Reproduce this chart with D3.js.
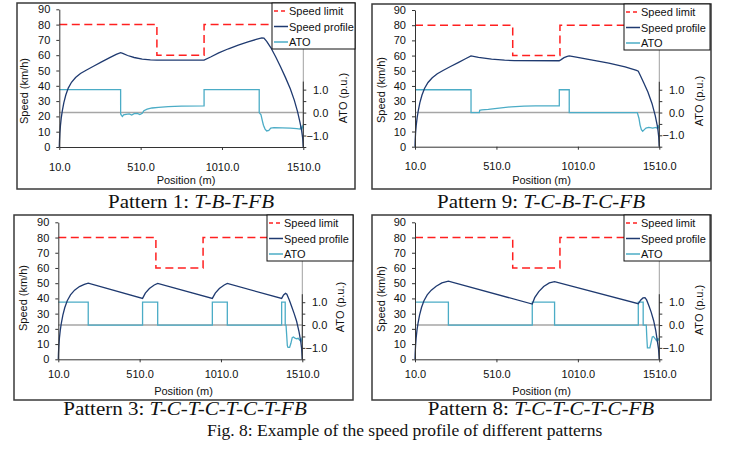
<!DOCTYPE html>
<html>
<head>
<meta charset="utf-8">
<script src="https://cdn.jsdelivr.net/npm/d3@7"></script>
<style>
  body { margin: 0; background: #fff; }
  svg text { font-family: "Liberation Sans", Arial, sans-serif; fill: #111; }
  svg text.cap { font-family: "Liberation Serif", "Times New Roman", serif; }
</style>
</head>
<body>
<svg id="fig" width="731" height="454"></svg>
<script>
// ---- data ----
const posTicks = [10, 510, 1010, 1510];
const speedTicks = [0, 10, 20, 30, 40, 50, 60, 70, 80, 90];
const atoTicks = [-1.5, -1, -0.5, 0, 0.5, 1];
const atoLabels = [-1, 0, 1];
const seriesNames = ["Speed limit", "Speed profile", "ATO"];

// speed limit (km/h) vs position (m)
const limitPos = [10, 610, 610, 900, 900, 1510];
const limitVal = [80, 80, 60, 60, 80, 80];

// Pattern 1: T-B-T-FB
const p1Speed = [[10,0],[11,4],[13.5,9],[17,14],[22,19],[29,24],[38,29],[50,34],[65,38.5],[85,42.3],[110,45.4],
  [140,48],[175,50.2],[220,52.8],[270,55.6],[320,58.4],[360,60.5],[387,61.7],
  [400,61.2],[430,59.8],[470,58.5],[520,57.5],[570,57],[610,56.8],[900,56.8],[940,58.8],[990,61.5],[1050,64.2],
  [1110,66.6],[1170,68.7],[1220,70.3],[1255,71.3],[1268,71.2],[1285,69],[1310,65],[1340,59],[1370,52.5],
  [1400,45.5],[1430,38],[1455,30.5],[1475,23],[1490,16],[1500,10.5],[1506,6],[1510,0]];
const p1Ato = [[10,1],[387,1],[387,-0.05],[392,-0.12],[398,-0.17],[405,-0.1],[420,-0.08],[440,-0.06],[455,-0.11],
  [470,-0.05],[490,-0.04],[505,-0.09],[520,-0.03],[530,0.08],[550,0.15],[580,0.2],[620,0.23],[680,0.26],[760,0.28],
  [900,0.29],[900,1],[1239,1],[1239,0],[1250,-0.1],[1258,-0.35],[1265,-0.55],[1275,-0.72],[1285,-0.8],[1298,-0.78],
  [1310,-0.68],[1330,-0.66],[1380,-0.67],[1430,-0.68],[1470,-0.7],[1490,-0.72],[1495,-0.62],[1500,-0.75],[1505,-0.6],[1510,-0.68]];

// Pattern 9: T-C-B-T-C-FB
const p9Speed = [[10,0],[11,4],[13.5,9],[17.5,14],[23,19],[30.5,24],[40,29],[53,34],[69,38.5],[90,42.3],[116,45.4],
  [147,48],[182,50.2],[228,52.8],[275,55.4],[320,57.9],[354,59.8],
  [400,58.8],[480,57.6],[560,57],[620,56.7],[895,56.6],[905,57.2],[925,58.6],[945,59.5],[957,59.8],[1000,59],
  [1100,57],[1200,55],[1300,52.5],[1370,50.2],[1381,49.7],[1395,46.5],[1415,42],[1440,36],[1465,28.5],[1485,20.5],
  [1500,12.5],[1506,7],[1510,0]];
const p9Ato = [[10,1],[354,1],[354,0],[405,0],[407,0.1],[420,0.12],[460,0.14],[500,0.17],[540,0.2],[600,0.25],
  [680,0.28],[750,0.29],[896,0.29],[896,1],[957,1],[957,0],[1375,0],[1385,-0.25],[1392,-0.55],[1400,-0.75],
  [1408,-0.82],[1418,-0.75],[1428,-0.68],[1445,-0.65],[1470,-0.68],[1490,-0.65],[1498,-0.7],[1503,-0.55],[1507,-0.7],[1510,-0.6]];

// Pattern 3: T-C-T-C-T-C-T-FB
const p3Speed = [[10,0],[11,4],[13.5,9],[17,14],[22,19],[29,24],[38,29],[50,34],[65,38.5],[85,42.3],[110,45.4],
  [140,47.8],[170,49.2],[194,50],[528,40],[545,43.5],
  [570,46.5],[600,48.8],[621,49.8],[957,40],[975,43.5],[1000,46.5],[1030,48.8],[1049,49.8],[1383,40],[1395,42.3],
  [1407,43.3],[1415,42.8],[1430,39],[1445,34.5],[1460,30],[1475,25],[1490,18],[1500,12],[1506,7],[1510,0]];
const p3Ato = [[10,1],[194,1],[194,0],[528,0],[528,1],[621,1],[621,0],[957,0],[957,1],[1049,1],[1049,0],[1383,0],
  [1383,1],[1405,1],[1405,0],[1410,0],[1414,-0.45],[1418,-0.9],[1422,-0.98],[1432,-0.98],[1440,-0.8],[1448,-0.55],
  [1455,-0.52],[1465,-0.57],[1475,-0.6],[1485,-0.58],[1495,-0.67],[1502,-0.72],[1507,-0.6],[1510,-0.65]];

// Pattern 8: T-C-T-C-T-C-FB
const p8Speed = [[10,0],[11,4],[13.5,9],[17,14],[22,19],[29,24],[38,29],[50,34],[65,38.5],[85,42.3],[110,45.4],
  [140,48],[175,50.2],[215,51.3],[730,36.3],[745,40.5],
  [770,44.5],[800,47.8],[835,50.2],[867,51],[1381,36.5],[1395,38.8],[1410,40.3],[1422,40.5],[1432,39],[1445,35.5],
  [1460,31],[1475,25.5],[1488,19],[1498,12],[1505,7],[1510,0]];
const p8Ato = [[10,1],[215,1],[215,0],[730,0],[730,1],[867,1],[867,0],[1381,0],[1381,1],[1411,1],[1411,0],[1430,0],
  [1433,-0.5],[1437,-1],[1452,-1],[1460,-0.75],[1467,-0.52],[1474,-0.5],[1483,-0.58],[1493,-0.68],[1500,-0.6],
  [1505,-0.65],[1510,-0.58]];

const colors = { limit: "#ff2020", speed: "#1f3a70", ato: "#4bacc6" };

const svg = d3.select("#fig");
svg.append("rect").attr("width", 731).attr("height", 454).attr("fill", "#fff");

function drawPanel(p) {
  const g = svg.append("g");

  // outer frame of the chart
  g.append("rect")
    .attr("x", p.frame[0]).attr("y", p.frame[1])
    .attr("width", p.frame[2] - p.frame[0]).attr("height", p.frame[3] - p.frame[1])
    .attr("fill", "#fff").attr("stroke", "#3a3a3a").attr("stroke-width", 1.5);

  const x = d3.scaleLinear().domain([10, 1510]).range([p.left, p.right]);
  const y = d3.scaleLinear().domain([0, 90]).range([p.bottom, p.top]);
  const ya = d3.scaleLinear().domain([-1.5, 4.5]).range([p.bottom, p.top]);

  // secondary axis line (grey part) and ATO zero line
  g.append("line").attr("x1", x(1510)).attr("x2", x(1510)).attr("y1", y(90)).attr("y2", y(0))
    .attr("stroke", "#a0a0a0").attr("stroke-width", 1);
  g.append("line").attr("x1", x(10)).attr("x2", x(1510)).attr("y1", ya(0)).attr("y2", ya(0))
    .attr("stroke", "#a6a6a6").attr("stroke-width", 1.5);

  const line = d3.line().x(d => x(d[0])).y(d => y(d[1]));
  const atoLine = d3.line().x(d => x(d[0])).y(d => ya(d[1]));

  g.append("path").datum(limitPos.map((d, i) => [d, limitVal[i]]))
    .attr("d", line).attr("fill", "none").attr("stroke", colors.limit)
    .attr("stroke-width", 1.5).attr("stroke-dasharray", "8,4.5");

  g.append("path").datum(p.ato).attr("d", atoLine)
    .attr("fill", "none").attr("stroke", colors.ato).attr("stroke-width", 1.3);

  g.append("path").datum(p.speed).attr("d", line)
    .attr("fill", "none").attr("stroke", colors.speed).attr("stroke-width", 1.3);

  // left axis
  const yAxis = g.append("g").attr("transform", `translate(${p.left},0)`)
    .call(d3.axisLeft(y).tickValues(speedTicks).tickSize(3).tickSizeOuter(0).tickPadding(6));
  // bottom axis
  const xAxis = g.append("g").attr("transform", `translate(0,${p.bottom})`)
    .call(d3.axisBottom(x).tickValues(posTicks).tickFormat(d3.format(".1f")).tickSize(3).tickSizeOuter(0).tickPadding(p.xPad));
  // right (ATO) axis
  const aAxis = g.append("g").attr("transform", `translate(${p.right},0)`)
    .call(d3.axisRight(ya).tickValues(atoTicks).tickSize(3)
      .tickFormat(d => atoLabels.includes(d) ? d3.format(".1f")(d) : ""));
  aAxis.select(".domain").remove();
  aAxis.selectAll("text").attr("text-anchor", "end").attr("x", 25);
  g.append("line").attr("x1", p.right).attr("x2", p.right).attr("y1", ya(-1.5)).attr("y2", ya(1.35))
    .attr("stroke", "#333").attr("stroke-width", 1);

  [yAxis, xAxis, aAxis].forEach(a => {
    a.selectAll("path,line").attr("stroke", "#333");
    a.selectAll("text").style("font-size", "11px").attr("fill", "#111")
      .style("font-family", "'Liberation Sans', Arial, sans-serif");
  });

  // axis titles
  g.append("text").attr("x", (p.frame[0] + p.frame[2]) / 2).attr("y", p.frame[3] - 5)
    .attr("text-anchor", "middle").style("font-size", "11px").text("Position (m)");
  g.append("text").attr("transform", `translate(${p.yTitle[0]},${p.yTitle[1]}) rotate(-90)`)
    .attr("text-anchor", "middle").attr("dominant-baseline", "central")
    .style("font-size", "11px").text("Speed (km/h)");
  g.append("text").attr("transform", `translate(${p.aTitle[0]},${p.aTitle[1]}) rotate(-90)`)
    .attr("text-anchor", "middle").attr("dominant-baseline", "central")
    .style("font-size", "11px").text("ATO (p.u.)");

  // legend
  const lg = g.append("g").attr("transform", `translate(${p.legend[0]},${p.legend[1]})`);
  lg.append("rect").attr("width", p.legend[2]).attr("height", 46)
    .attr("fill", "#fff").attr("stroke", "#111").attr("stroke-width", 1);
  const legColors = [colors.limit, colors.speed, colors.ato];
  seriesNames.forEach((name, i) => {
    const cy = 8 + i * 15.5;
    lg.append("line").attr("x1", 2).attr("x2", 16).attr("y1", cy).attr("y2", cy)
      .attr("stroke", legColors[i]).attr("stroke-width", 1.5)
      .attr("stroke-dasharray", i === 0 ? "4,3" : null);
    lg.append("text").attr("x", 17).attr("y", cy).attr("dominant-baseline", "central")
      .style("font-size", "11px").text(name);
  });

  // caption (the sub-figure captions are slightly stretched horizontally in the original)
  const cap = svg.append("text").attr("class", "cap")
    .attr("transform", `translate(${p.cap[0]},${p.cap[1]}) scale(1.13,1)`)
    .attr("text-anchor", "middle").style("font-size", "18.6px");
  cap.append("tspan").text(p.capText);
  cap.append("tspan").style("font-style", "italic").text(p.capSeq);
}

drawPanel({ frame: [17, 3, 355, 189], left: 59.3, right: 303.3, top: 9.3, bottom: 147, xPad: 13,
  legend: [272, 3, 83], yTitle: [24, 91], aTitle: [343, 98], speed: p1Speed, ato: p1Ato,
  cap: [191, 208], capText: "Pattern 1: ", capSeq: "T-B-T-FB" });
drawPanel({ frame: [372, 4, 711, 189], left: 415, right: 659.3, top: 10, bottom: 146.7, xPad: 13,
  legend: [624, 4, 86], yTitle: [381, 90], aTitle: [699, 101], speed: p9Speed, ato: p9Ato,
  cap: [541, 208], capText: "Pattern 9: ", capSeq: "T-C-B-T-C-FB" });
drawPanel({ frame: [14, 215, 353, 400], left: 58.3, right: 302.3, top: 222.3, bottom: 359.3, xPad: 8,
  legend: [267, 215, 86], yTitle: [23, 298], aTitle: [340, 307], speed: p3Speed, ato: p3Ato,
  cap: [185, 415], capText: "Pattern 3: ", capSeq: "T-C-T-C-T-C-T-FB" });
drawPanel({ frame: [372, 215, 711, 400], left: 415, right: 659.3, top: 222.3, bottom: 359.3, xPad: 8,
  legend: [624, 215, 86], yTitle: [381, 299], aTitle: [699, 310], speed: p8Speed, ato: p8Ato,
  cap: [541, 415], capText: "Pattern 8: ", capSeq: "T-C-T-C-T-C-FB" });

svg.append("text").attr("class", "cap").attr("x", 207).attr("y", 436)
  .style("font-size", "17.5px")
  .text("Fig. 8: Example of the speed profile of different patterns");
</script>
</body>
</html>
